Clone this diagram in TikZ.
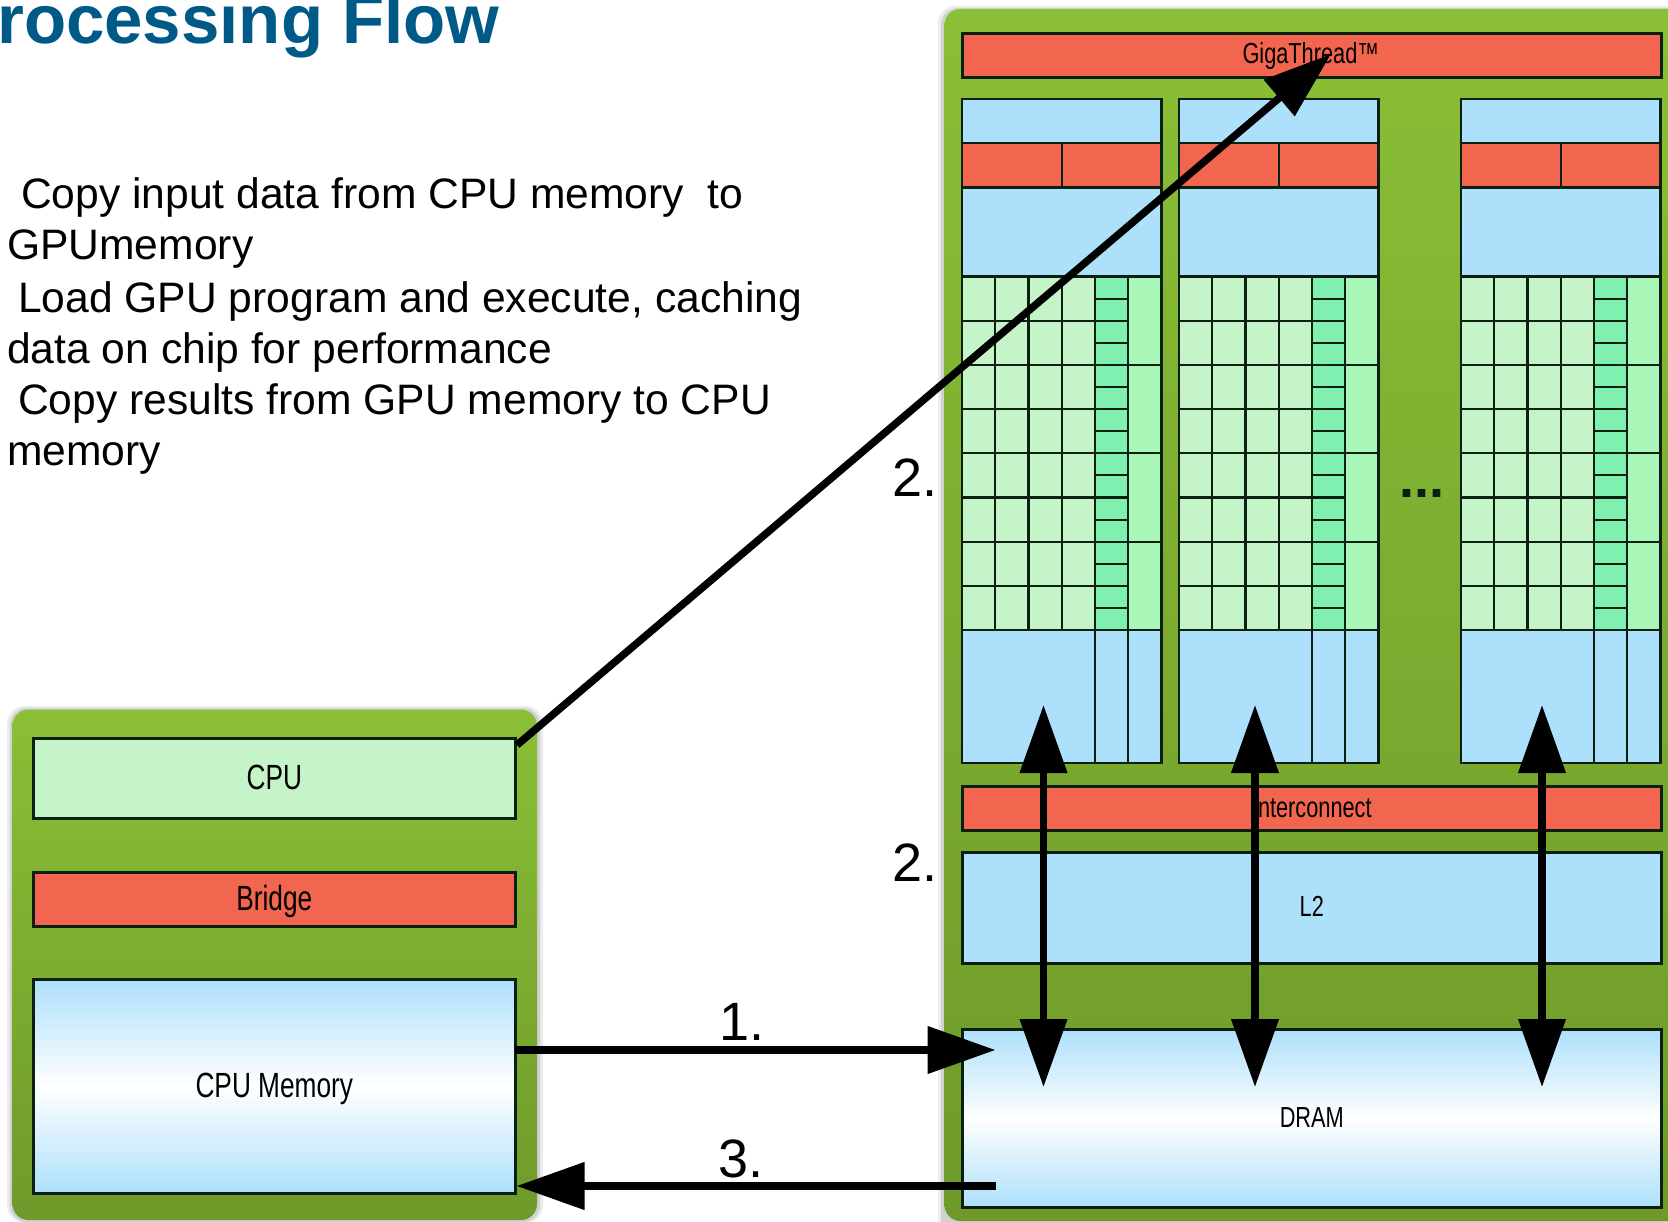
\documentclass[tikz,border=0pt]{standalone}
\usepackage{fontspec}
\setmainfont{Liberation Sans}
\newfontfamily\boxfont[FakeStretch=0.75]{Liberation Sans}
\usetikzlibrary{positioning}
\usetikzlibrary{arrows.meta}
\definecolor{panelTop}{HTML}{8ABF36}
\definecolor{panelBot}{HTML}{6F9A2B}
\definecolor{redbar}{HTML}{F2654E}
\definecolor{bluebar}{HTML}{ADE0FB}
\definecolor{cellgreen}{HTML}{C6F4C9}
\definecolor{midgreen}{HTML}{7FF0B0}
\definecolor{sidegreen}{HTML}{A8F7B8}
\definecolor{titleblue}{HTML}{005A87}
\definecolor{edge}{HTML}{0B2010}
\tikzset{
  block/.style={draw=edge,line width=2.6pt,minimum height=#1,anchor=north west,inner sep=0pt},
  wide/.style={block=#1,minimum width=699pt},
  leftbox/.style={block=#1,minimum width=482pt},
  memfill/.style={top color=bluebar,bottom color=bluebar,middle color=white},
  bigtext/.style={font=\fontsize{42.6}{51.4}\selectfont,anchor=north west,inner sep=0pt,align=left},
  steplabel/.style={font=\fontsize{54}{54}\selectfont,inner sep=0pt},
  rightlabel/.style={font=\boxfont\fontsize{29}{29}\selectfont},
  leftlabel/.style={font=\boxfont\fontsize{35}{35}\selectfont},
  thick arrow/.style={line width=7.5pt,black,-{Triangle[length=68pt,width=46pt]}},
  both arrow/.style={line width=7.5pt,black,{Triangle[length=68pt,width=46pt]}-{Triangle[length=68pt,width=46pt]}},
}
\begin{document}
\begin{tikzpicture}[x=1pt,y=-1pt]
 \useasboundingbox (0,0) rectangle (1668,1221);
 \fill[white] (0,0) rectangle (1668,1221);
 \node[anchor=base west,inner sep=0pt,font=\fontsize{69}{69}\selectfont\bfseries,text=titleblue] (title) at (-49,43) {Processing Flow};
 \node[bigtext] (copyin) at (7,177) {\hspace*{14pt}Copy input data from CPU memory\ \ to\\GPUmemory};
 \node[bigtext] (loadrun) at (7,281) {\hspace*{11pt}Load GPU program and execute, caching\\data on chip for performance};
 \node[bigtext] (copyout) at (7,383) {\hspace*{11pt}Copy results from GPU memory to CPU\\memory};

 \fill[black!8,rounded corners=18pt] (7,706) rectangle (543,1223);
 \fill[black!18,rounded corners=17pt] (10,708) rectangle (540,1222);
 \fill[black!8,rounded corners=18pt] (938,6) rectangle (1690,1235);
 \fill[black!18,rounded corners=17pt] (941,8) rectangle (1690,1235);
 \shade[top color=panelTop,bottom color=panelBot,rounded corners=16pt] (12.5,709.6) rectangle (537,1220);
 \shade[top color=panelTop,bottom color=panelBot,rounded corners=16pt] (944.5,9) rectangle (1690,1221);

 \node[leftbox=80pt,fill=cellgreen] (cpu) at (32,737) {};
 \node[leftlabel,yshift=1pt] at (cpu.center) {CPU};
 \node[leftbox=54pt,fill=redbar] (bridge) at (32,871) {};
 \node[leftlabel,yshift=-2pt] at (bridge.center) {Bridge};
 \node[leftbox=214pt,memfill] (cpumem) at (32,978) {};
 \node[leftlabel,yshift=-3pt] at (cpumem.center) {CPU Memory};

 \node[wide=44pt,fill=redbar] (giga) at (961,32) {};
 \node[rightlabel,xshift=-1pt,yshift=-1pt] at (giga.center) {GigaThread™};
 \node[wide=44pt,fill=redbar] (inter) at (961,785) {};
 \node[rightlabel,yshift=1pt] at (inter.center) {Interconnect};
 \node[wide=111pt,fill=bluebar] (ltwo) at (961,851) {};
 \node[rightlabel,yshift=1pt] at (ltwo.center) {L2};
 \node[wide=178pt,memfill] (dram) at (961,1028) {};
 \node[rightlabel,yshift=1pt] at (dram.center) {DRAM};

 \foreach \colx in {962,1179,1461}{
  \begin{scope}[shift={(\colx,0)},line width=2.1pt,draw=edge]
   \draw[fill=bluebar] (0,99) rectangle (199.5,276.5);
   \draw[fill=redbar] (0,143) rectangle (199.5,187.5);
   \draw (99.75,143) -- (99.75,187.5);
   \fill[cellgreen] (0,276.5) rectangle (133,630);
   \fill[midgreen] (133,276.5) rectangle (166.3,630);
   \fill[sidegreen] (166.3,276.5) rectangle (199.5,630);
   \foreach \rowk in {1,...,7}
    \draw (0,276.5+44.19*\rowk) -- (166.25,276.5+44.19*\rowk);
   \foreach \rowk in {2,4,6}
    \draw (166.25,276.5+44.19*\rowk) -- (199.5,276.5+44.19*\rowk);
   \foreach \rowk in {0,...,7}
    \draw (133,298.6+44.19*\rowk) -- (166.25,298.6+44.19*\rowk);
   \foreach \cellx in {33.25,66.5,99.75,133,166.25}
    \draw (\cellx,276.5) -- (\cellx,630);
   \draw (0,276.5) rectangle (199.5,630);
   \draw[fill=bluebar] (0,630) rectangle (199.5,763);
   \draw (133,630) -- (133,763);
   \draw (166.25,630) -- (166.25,763);
  \end{scope}
 }

 \node[steplabel,anchor=base,font=\fontsize{54}{54}\selectfont\bfseries,text=edge] (dots) at (1422,497) {...};

 \coordinate (mainstart) at (517,745);
 \coordinate (mainend) at (1331,54);
 \draw[thick arrow] (mainstart) -- (mainend);
 \foreach \arrx/\name in {1043.5/one,1255/two,1542/three}{
  \coordinate (up\name) at (\arrx,705);
  \coordinate (down\name) at (\arrx,1087);
  \draw[both arrow] (up\name) -- (down\name);
 }
 \coordinate (oneout) at (515,1050);
 \coordinate (onein) at (995.5,1050);
 \draw[thick arrow] (oneout) -- (onein);
 \coordinate (threeout) at (995.5,1186);
 \coordinate (threein) at (516.5,1186);
 \draw[thick arrow] (threeout) -- (threein);

 \node[steplabel,anchor=base] (stepone) at (742,1040) {1.};
 \node[steplabel,anchor=base] (stepthree) at (741,1177) {3.};
 \node[steplabel,anchor=base] (steptwoa) at (915,496) {2.};
 \node[steplabel,anchor=base] (steptwob) at (915,881) {2.};
\end{tikzpicture}
\end{document}
